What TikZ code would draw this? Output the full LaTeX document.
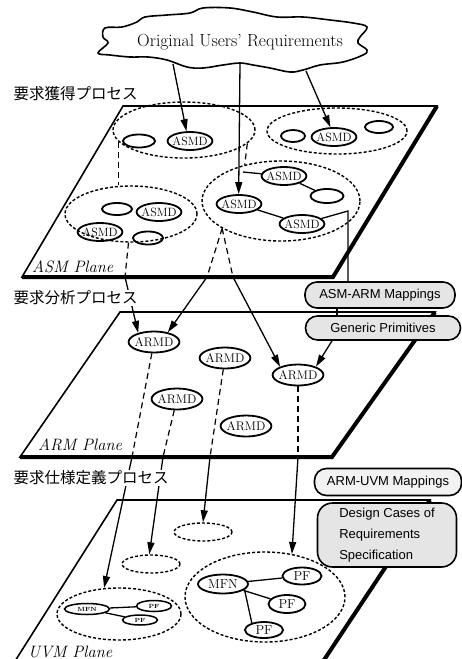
\documentclass[tikz,border=0pt]{standalone}
\usepackage{fontspec}
\usepackage{tikz}
\usetikzlibrary{positioning,arrows.meta,shapes.geometric}
\newfontfamily\jpfont{Noto Sans CJK JP}
\newfontfamily\boxfont{Liberation Sans}

\begin{document}
\begin{tikzpicture}[x=1pt,y=-1pt,
    plane/.style={fill=white,line width=1.6pt,line join=miter},
    planeedge/.style={line width=4pt,line join=miter},
    md/.style={ellipse,draw,line width=1.8pt,inner ysep=0pt},
    asmd/.style={md,font=\fontsize{12}{12}\selectfont,inner xsep=-1.7pt,minimum height=18pt},
    armd/.style={md,font=\fontsize{12.5}{12.5}\selectfont,inner xsep=-1.4pt,minimum height=21pt},
    blob/.style={md,minimum width=#1,minimum height=13pt,inner sep=0pt},
    blob/.default=30pt,
    fn/.style={md,font=\fontsize{13}{13}\selectfont,inner sep=0pt},
    fnsmall/.style={md,line width=1.5pt,font=\fontsize{6}{6}\selectfont\bfseries,inner sep=0pt,minimum height=11pt},
    clus/.style={ellipse,draw,line width=1.4pt,dash pattern=on 3pt off 2pt,inner sep=0pt},
    hidline/.style={line width=1.2pt,dash pattern=on 6pt off 4pt},
    map/.style={-{Triangle[length=12pt,width=7pt]},line width=1.3pt},
    link/.style={line width=1.3pt},
    note/.style={draw,rounded corners=12pt,line width=1.6pt,fill=black!10,
      font=\boxfont\fontsize{13}{21}\selectfont,inner sep=0pt},
    proc/.style={font=\jpfont\fontsize{15.5}{15.5}\selectfont,anchor=west,fill=white,inner sep=0.5pt},
    plabel/.style={font=\itshape\fontsize{16.5}{16.5}\selectfont,anchor=base west,inner sep=0pt}]
  \useasboundingbox (0,0) rectangle (462,659);

  % Cloud of requirements
  \draw[line width=1.6pt] plot[smooth cycle,tension=0.6] coordinates {
    (105,28) (122,27) (137,22) (145,17) (167,15) (190,13) (203,8) (230,8)
    (253,12) (277,17) (303,17) (330,20) (353,23) (367,27) (360,37) (358,43)
    (367,50) (363,55) (343,62) (320,65) (303,70) (290,72) (270,68) (253,65)
    (240,63) (223,65) (203,68) (187,67) (167,60) (148,57) (130,57) (110,55)
    (98,53) (108,43) (103,37)};
  \node[font=\fontsize{17.5}{17.5}\selectfont] (req) at (240,42) {Original Users' Requirements};
  \coordinate (cu1) at (173,64);
  \coordinate (cu2) at (240,64);
  \coordinate (cu3) at (306,71);

  % Planes
  \draw[plane] (123,106) -- (437,106) -- (333,277) -- (22,277) -- cycle;
  \draw[planeedge] (437,106) -- (333,277) -- (22,277);
  \draw[plane] (120,312) -- (435,312) -- (332,457) -- (20,457) -- cycle;
  \draw[planeedge] (435,312) -- (332,457) -- (20,457);
  \draw[plane] (117,500) -- (430,500) -- (318,669) -- (10,669) -- cycle;
  \draw[planeedge] (430,500) -- (318,669);

  % ASM plane
  \node[clus,minimum width=142pt,minimum height=56pt] (clusA) at (184,130) {};
  \node[blob=32pt] (blobA) at (139,141) {};
  \node[asmd] (asmdA) at (190,141) {ASMD};
  \node[clus,minimum width=140pt,minimum height=46pt] (clusC) at (337,131) {};
  \node[blob=24pt,minimum height=12pt] (blobC1) at (293,136) {};
  \node[asmd] (asmdC) at (334,137) {ASMD};
  \node[blob=28pt,minimum height=12pt] (blobC2) at (379,127) {};
  \node[clus,minimum width=132pt,minimum height=56pt] (clusB) at (131,214) {};
  \node[blob,minimum height=12pt] (blobB1) at (117,209) {};
  \node[asmd] (asmdB1) at (159,212) {ASMD};
  \node[asmd] (asmdB2) at (100,232) {ASMD};
  \node[blob] (blobB2) at (148,238) {};
  \node[clus,minimum width=158pt,minimum height=80pt] (clusD) at (281,201) {};
  \node[asmd] (asmdD2) at (284,176) {ASMD};
  \node[blob=33pt,minimum height=14pt] (blobD) at (327,196) {};
  \node[asmd] (asmdD1) at (239,204) {ASMD};
  \node[asmd] (asmdD3) at (302,224) {ASMD};
  \coordinate (stubD) at (243,172);
  \coordinate (kink) at (348,211);
  \node[plabel] (asmpl) at (32,272) {ASM Plane};

  % ARM plane
  \node[armd] (armdA) at (154,342) {ARMD};
  \node[armd] (armdB) at (225,358) {ARMD};
  \node[armd] (armdC) at (298,375) {ARMD};
  \node[armd] (armdD) at (177,399) {ARMD};
  \node[armd] (armdE) at (246,426) {ARMD};
  \node[plabel] (armpl) at (38,450) {ARM Plane};

  % UVM plane
  \node[clus,minimum width=58pt,minimum height=18pt] (eS2) at (203,532) {};
  \node[clus,minimum width=58pt,minimum height=18pt] (eS1) at (151,564) {};
  \node[clus,minimum width=124pt,minimum height=52pt] (clusS) at (119,614) {};
  \node[fnsmall,minimum width=45pt] (mfnS) at (87,609) {MFN};
  \node[fnsmall,minimum width=35pt] (pfS1) at (154,606) {PF};
  \node[fnsmall,minimum width=35pt,minimum height=10pt] (pfS2) at (140,620) {PF};
  \node[clus,minimum width=160pt,minimum height=90pt] (clusBig) at (265,597) {};
  \node[fn,minimum width=50pt,minimum height=19pt] (mfnB) at (223,584) {MFN};
  \node[fn,minimum width=39pt,minimum height=17pt] (pfB1) at (302,576) {PF};
  \node[fn,minimum width=37pt,minimum height=18pt] (pfB2) at (287,604) {PF};
  \node[fn,minimum width=38pt,minimum height=16pt] (pfB3) at (264,630) {PF};
  \node[plabel] (uvmpl) at (28,657) {UVM Plane};

  % Junctions on plane edges
  \coordinate (jB) at (125,277);
  \coordinate (jDl) at (207,277);
  \coordinate (jDr) at (233,277);
  \coordinate (jA) at (132,457);
  \coordinate (jD) at (163,457);
  \coordinate (jB2) at (210,457);
  \coordinate (jC) at (298,457);

  % Boxes
  \node[note,minimum width=150pt,minimum height=26pt] (mapAA) at (380,295) {ASM-ARM Mappings};
  \node[note,minimum width=155pt,minimum height=24pt] (genP) at (383,328) {Generic Primitives};
  \node[note,fill=black!5,minimum width=147pt,minimum height=27pt] (mapAU) at (388,482) {ARM-UVM Mappings};
  \node[note,rounded corners=15pt,minimum width=139pt,minimum height=64pt,align=left] (dcase) at (387,535)
    {Design Cases of\\Requirements\\Specification};

  % Connectors
  \draw[map] (cu1) -- (asmdA.110);
  \draw[map] (cu2) -- (asmdD1.92);
  \draw[map] (cu3) -- (asmdC.110);
  \draw[hidline] (clusA.190) -- (clusA.190 |- clusB.north);
  \draw[hidline] (clusA.348) -- (clusD.135);
  \draw[link] (stubD) -- (asmdD2);
  \draw[link] (asmdD2) -- (blobD);
  \draw[link] (asmdD1) -- (asmdD3);
  \draw[link] (asmdD3) -- (kink) -- (kink |- mapAA.north);
  \draw[hidline] (clusB.265) -- (jB);
  \draw[map] (jB) -- (armdA.150);
  \draw[hidline] (clusD.205) -- (jDl);
  \draw[map] (jDl) -- (armdA.35);
  \draw[hidline] (clusD.205) -- (jDr);
  \draw[map] (jDr) -- (armdC.155);
  \draw[link] ([xshift=-43pt]mapAA.south) -- ([xshift=-46pt]genP.north);
  \draw[map] ([xshift=-51pt]genP.south) -- (armdC.25);
  \draw[hidline] (armdA) -- (jA);
  \draw[map] (jA) -- (clusS.120);
  \draw[hidline] (armdD) -- (jD);
  \draw[map] (jD) -- (eS1.100);
  \draw[hidline] (armdB) -- (jB2);
  \draw[map] (jB2) -- (eS2.north);
  \draw[hidline] (armdC) -- (jC);
  \draw[map] (jC) -- (clusBig.58);
  \draw[link] (mfnS) -- (pfS1);
  \draw[link] (mfnS) -- (pfS2);
  \draw[link] (mfnB) -- (pfB1);
  \draw[link] (mfnB) -- (pfB2);
  \draw[link] (mfnB.-15) -- (pfB3.150);

  % Process labels
  \node[proc] (acq) at (13,94) {要求獲得プロセス};
  \node[proc] (ana) at (13,298) {要求分析プロセス};
  \node[proc] (spec) at (13,478) {要求仕様定義プロセス};
\end{tikzpicture}
\end{document}
